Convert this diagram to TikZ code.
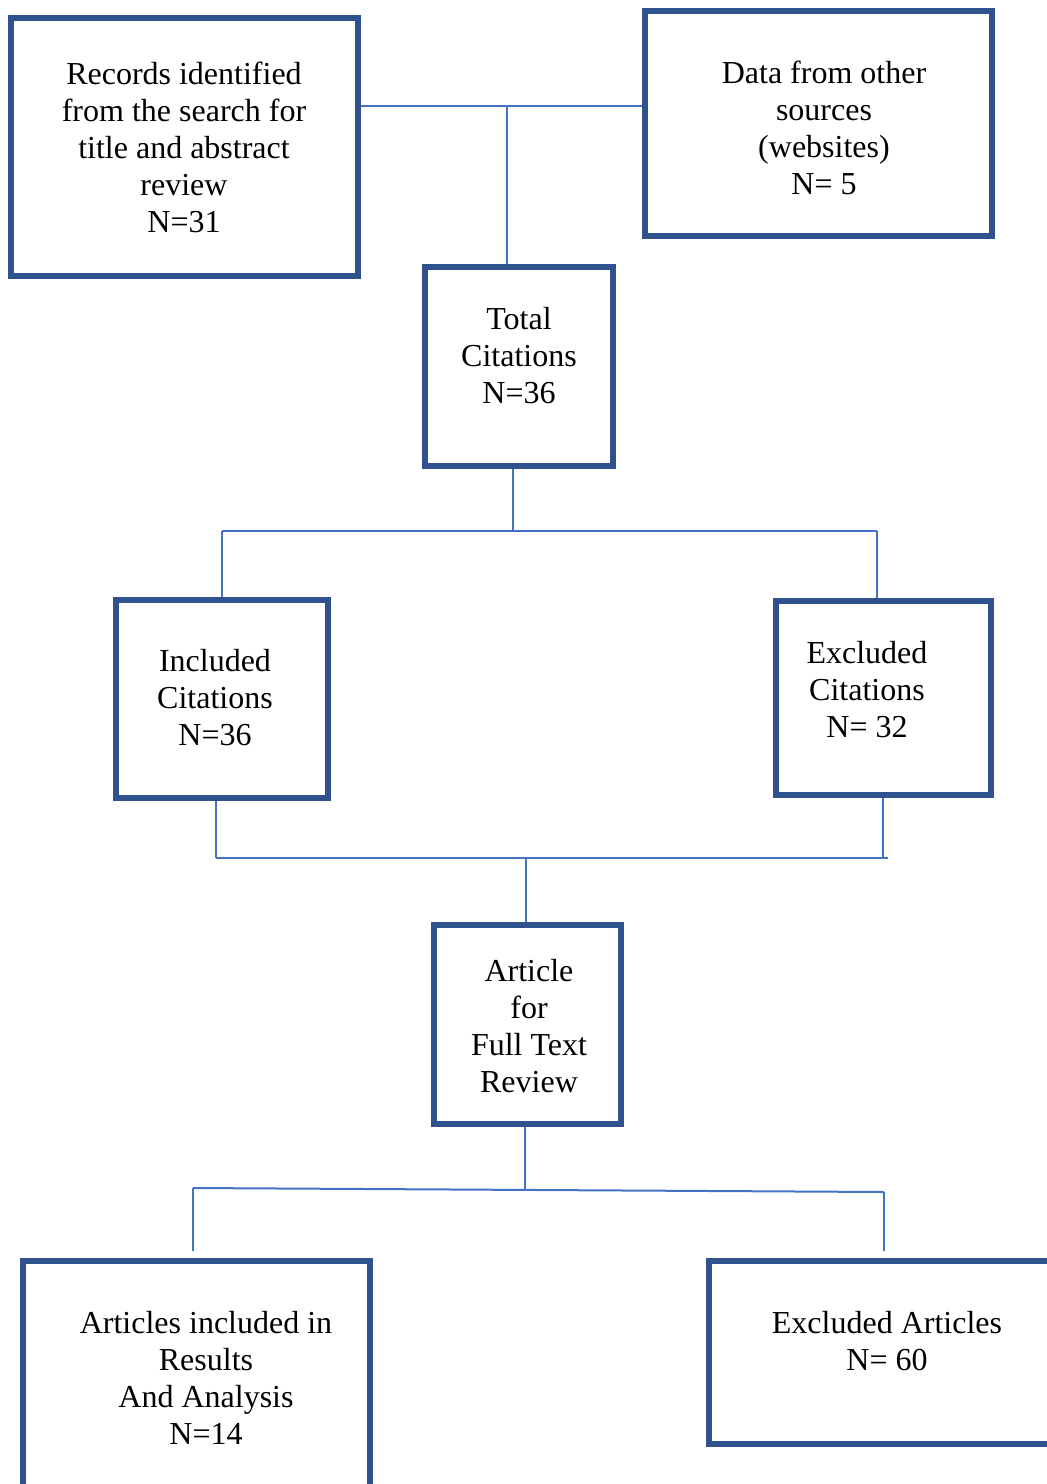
\documentclass[tikz,border=0pt]{standalone}
\usepackage{fontspec}
\setmainfont{Liberation Serif}
\usetikzlibrary{fit}
\definecolor{boxblue}{HTML}{2F528F}
\definecolor{lineblue}{HTML}{4472C4}
\begin{document}
\begin{tikzpicture}[x=0.5pt,y=-0.5pt,
  box/.style={draw=boxblue,line width=3pt,inner sep=0pt,rectangle},
  conn/.style={draw=lineblue,line width=1pt},
  txt/.style={align=center,inner sep=0pt,font=\fontsize{16pt}{18.5pt}\selectfont}]
\useasboundingbox (0,0) rectangle (1047,1484);
% boxes
\node[box,fit={(11,18) (358,276)}] (rec) {};
\node[box,fit={(645,11) (992,236)}] (dat) {};
\node[box,fit={(425,267) (613,466)}] (tot) {};
\node[box,fit={(116,600) (328,798)}] (inc) {};
\node[box,fit={(776,601) (991,795)}] (exc) {};
\node[box,fit={(434,925) (621,1124)}] (art) {};
\node[box,fit={(23,1261) (370,1530)}] (res) {};
\node[box,fit={(709,1261) (1080,1444)}] (exa) {};
% texts
\node[txt] (trec) at (184,147) {Records identified\\from the search for\\title and abstract\\review\\N=31};
\node[txt] (tdat) at (824,128) {Data from other\\sources\\(websites)\\N= 5};
\node[txt] (ttot) at (519,356) {Total\\Citations\\N=36};
\node[txt] (tinc) at (215,698) {Included\\Citations\\N=36};
\node[txt] (texc) at (867,690) {Excluded\\Citations\\N= 32};
\node[txt] (tart) at (529,1026) {Article\\for\\Full Text\\Review};
\node[txt] (tres) at (206,1378) {Articles included in\\Results\\And Analysis\\N=14};
\node[txt] (texa) at (887,1341) {Excluded Articles\\N= 60};
% connectors
\coordinate (j1) at (507,106);
\draw[conn] (rec.east |- j1) -- (dat.west |- j1);
\draw[conn] (j1) -- (j1 |- tot.north);
\coordinate (t1) at (513,531);
\coordinate (a1) at (222,531);
\coordinate (b1) at (877,531);
\draw[conn] (t1 |- tot.south) -- (t1);
\draw[conn] (a1) -- (b1);
\draw[conn] (a1) -- (a1 |- inc.north);
\draw[conn] (b1) -- (b1 |- exc.north);
\coordinate (a2) at (216,858);
\coordinate (b2) at (883,858);
\coordinate (e2) at (888,858);
\coordinate (m2) at (526,858);
\draw[conn] (a2 |- inc.south) -- (a2);
\draw[conn] (b2 |- exc.south) -- (b2);
\draw[conn] (a2) -- (e2);
\draw[conn] (m2) -- (m2 |- art.north);
\coordinate (m3) at (525,1190);
\coordinate (a3) at (193,1188);
\coordinate (b3) at (884,1192);
\coordinate (a4) at (193,1251);
\coordinate (b4) at (884,1251);
\draw[conn] (m3 |- art.south) -- (m3);
\draw[conn] (a3) -- (b3);
\draw[conn] (a3) -- (a4);
\draw[conn] (b3) -- (b4);
\end{tikzpicture}
\end{document}
